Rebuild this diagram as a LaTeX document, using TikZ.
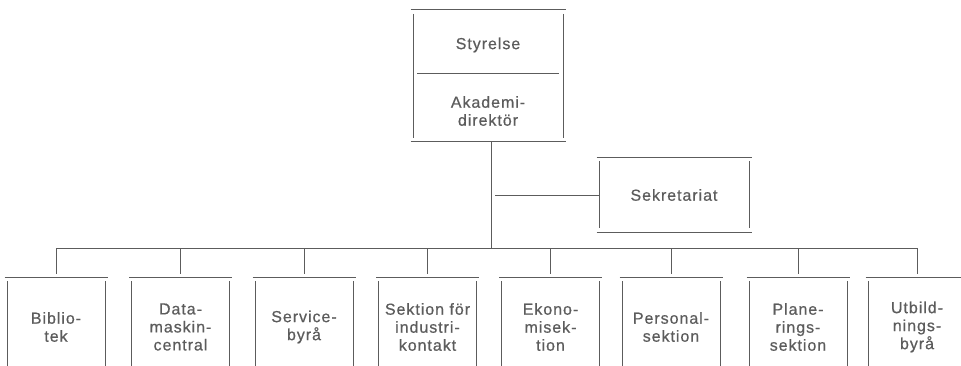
\documentclass[tikz,border=0pt]{standalone}
\usepackage{fontspec}
\setmainfont{Liberation Sans}[LetterSpace=6,FakeBold=0.6]
\definecolor{ink}{gray}{0.36}
\definecolor{txt}{gray}{0.36}
\tikzset{
 orgbox/.style={inner sep=0pt, outer sep=0pt, draw=none, rectangle},
 conn/.style={draw=ink, line width=1pt},
 lbl/.style={text=txt, font=\fontsize{16}{18}\selectfont, align=center, inner sep=0pt},
}
\newcommand{\boxlines}[1]{%
 \draw[conn] ([xshift=-2.5pt]#1.north west) -- ([xshift=2.5pt]#1.north east);
 \draw[conn] ([xshift=-2.5pt]#1.south west) -- ([xshift=2.5pt]#1.south east);
 \draw[conn] ([yshift=-4pt]#1.north west) -- ([yshift=4pt]#1.south west);
 \draw[conn] ([yshift=-4pt]#1.north east) -- ([yshift=4pt]#1.south east);
}
\begin{document}
\begin{tikzpicture}[x=1pt,y=-1pt]
\useasboundingbox (0,0) rectangle (961,366);
\clip (0,0) rectangle (961,366);
% top box
\node[orgbox, minimum width=150pt, minimum height=132pt] (ledning) at (488,76) {};
\boxlines{ledning}
\node[lbl] (styr) at (488,45) {Styrelse};
\node[lbl] (akad) at (488,111) {Akademi-\\direktör};
\draw[conn] ([xshift=4pt]ledning.west |- 0,74) coordinate (dl) -- ([xshift=-4pt]ledning.east |- dl) coordinate (dr);
% Sekretariat
\node[orgbox, lbl, minimum width=150pt, minimum height=75pt] (sek) at (674,195) {Sekretariat};
\boxlines{sek}
% trunk
\coordinate (trunk) at (491,248);
\coordinate (sekstart) at (495,196);
\draw[conn] (trunk |- ledning.south) -- (trunk);
\draw[conn] (sekstart) -- (sek.west |- sekstart);
% bottom boxes
\foreach \n/\cx/\t in {b1/56/{Biblio-\\tek}, b2/180.5/{Data-\\maskin-\\central}, b3/304/{Service-\\byrå}, b4/427.5/{Sektion för\\industri-\\kontakt}, b5/550.5/{Ekono-\\misek-\\tion}, b6/671/{Personal-\\sektion}, b7/798/{Plane-\\rings-\\sektion}, b8/917/{Utbild-\\nings-\\byrå}}{
  \node[orgbox, lbl, minimum width=98pt, minimum height=100pt] (\n) at (\cx,327) {\t};
  \boxlines{\n}
  \draw[conn] (\n.north |- trunk) -- ([yshift=3pt]\n.north);
}
\draw[conn] (b1.north |- trunk) -- (b8.north |- trunk);
\end{tikzpicture}
\end{document}
